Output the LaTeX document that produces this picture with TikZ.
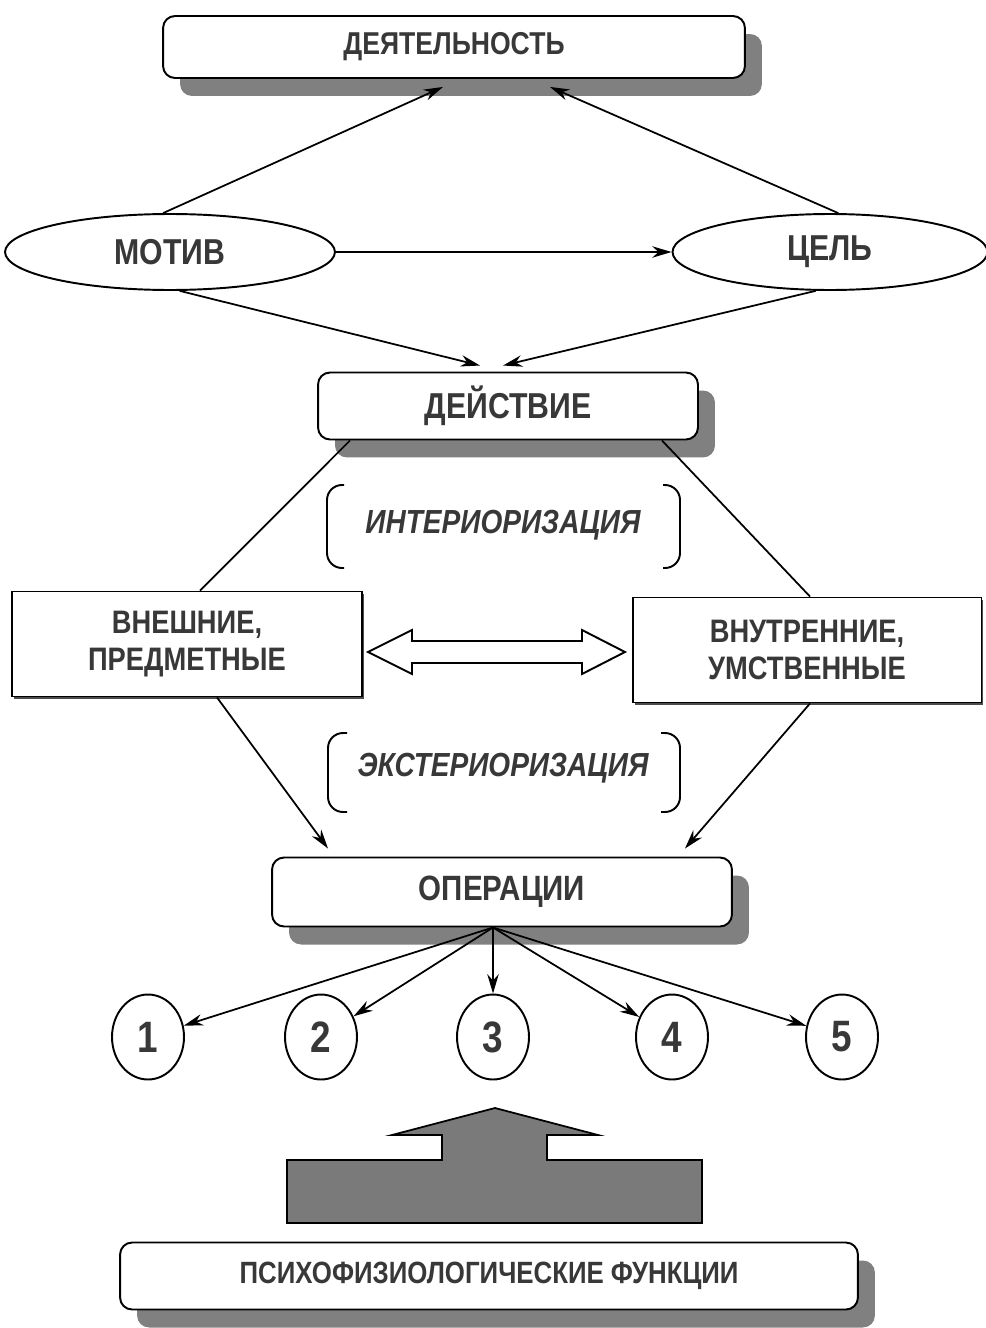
\documentclass[tikz,border=0pt]{standalone}
\usepackage{fontspec}
\setmainfont{Liberation Sans}[FakeStretch=0.84]
\usetikzlibrary{arrows.meta,shapes.geometric,shadows}

\begin{document}
\begin{tikzpicture}[x=0.02cm,y=-0.02cm,
  every node/.style={font=\fontsize{18}{21}\selectfont\bfseries,text=black!78},
  rbox/.style={draw,line width=1.1pt,fill=white,rounded corners=0.24cm,
    drop shadow={shadow xshift=0.34cm,shadow yshift=-0.36cm,fill=black!50,opacity=1}},
  sbox/.style={draw,line width=1.1pt,fill=white,align=center,
    font=\fontsize{18.5}{21}\selectfont\bfseries,
    drop shadow={shadow xshift=0.04cm,shadow yshift=-0.05cm,fill=black!70,opacity=1}},
  oval/.style={draw,ellipse,line width=1.1pt,fill=white,inner sep=0pt,
    font=\fontsize{20.5}{23}\selectfont\bfseries},
  num/.style={draw,ellipse,line width=1.1pt,fill=white,minimum width=1.44cm,
    minimum height=1.7cm,inner sep=0pt,font=\fontsize{25}{27}\selectfont\bfseries},
  arr/.style={line width=1pt,-{Stealth[length=11pt,width=6.5pt]}},
  ln/.style={line width=1pt},
  brk/.style={line width=1.1pt,rounded corners=0.3cm},
  it/.style={font=\fontsize{19}{21}\selectfont\bfseries\itshape}]
\useasboundingbox (0,0) rectangle (985,1328);

% top
\node[rbox,minimum width=11.64cm,minimum height=1.24cm] (akt) at (454,47) {ДЕЯТЕЛЬНОСТЬ};
\node[oval,minimum width=6.6cm,minimum height=1.52cm] (motiv) at (170,252) {МОТИВ};
\node[oval,minimum width=6.3cm,minimum height=1.52cm] (cel) at (830,252) {ЦЕЛЬ};
\node[rbox,minimum width=7.6cm,minimum height=1.34cm,font=\fontsize{20.5}{23}\selectfont\bfseries] (deystv) at (508,406) {ДЕЙСТВИЕ};

% middle
\node[it] (inter) at (503,525) {ИНТЕРИОРИЗАЦИЯ};
\node[sbox,minimum width=7cm,minimum height=2.1cm] (vnesh) at (187,644) {ВНЕШНИЕ,\\ПРЕДМЕТНЫЕ};
\node[sbox,minimum width=6.98cm,minimum height=2.1cm] (vnutr) at (807,650) {ВНУТРЕННИЕ,\\УМСТВЕННЫЕ};
\node[it] (exter) at (503,768) {ЭКСТЕРИОРИЗАЦИЯ};
\node[rbox,minimum width=9.2cm,minimum height=1.38cm,font=\fontsize{20}{23}\selectfont\bfseries] (oper) at (502,892) {ОПЕРАЦИИ};

% circles
\node[num] (c1) at (148,1037) {1};
\node[num] (c2) at (321,1037) {2};
\node[num] (c3) at (493,1037) {3};
\node[num] (c4) at (672,1037) {4};
\node[num] (c5) at (842,1037) {5};

% bottom
\filldraw[line width=1pt,fill=black!52] (495,1108) -- (598,1135) -- (547,1135) -- (547,1160)
  -- (702,1160) -- (702,1223) -- (287,1223) -- (287,1160) -- (442,1160) -- (442,1135)
  -- (392,1135) -- cycle;
\node[rbox,minimum width=14.76cm,minimum height=1.34cm,font=\fontsize{17.5}{20}\selectfont\bfseries] (psy) at (489,1276) {ПСИХОФИЗИОЛОГИЧЕСКИЕ ФУНКЦИИ};

% brackets
\draw[brk] (344,485) -- (327,485) -- (327,568) -- (344,568);
\draw[brk] (663,485) -- (680,485) -- (680,568) -- (663,568);
\draw[brk] (347,733) -- (328,733) -- (328,812) -- (347,812);
\draw[brk] (661,733) -- (680,733) -- (680,812) -- (661,812);

% double arrow
\draw[line width=1.1pt,fill=white] (368,652) -- (412,630) -- (412,641) -- (582,641) -- (582,630)
  -- (625,652) -- (582,674) -- (582,663) -- (412,663) -- (412,674) -- cycle;

% lines
\draw[arr] (motiv) -- (cel);
\draw[arr] (motiv.100) -- ([xshift=-0.22cm,yshift=-0.16cm]akt.south);
\draw[arr] (cel.78) -- ([xshift=1.92cm,yshift=-0.16cm]akt.south);
\draw[arr] (motiv.-76) -- ([xshift=-0.56cm,yshift=0.12cm]deystv.north);
\draw[arr] (cel.-110) -- ([xshift=-0.1cm,yshift=0.12cm]deystv.north);
\draw[ln] ([xshift=-3.16cm]deystv.south) -- ([xshift=0.26cm]vnesh.north);
\draw[ln] ([xshift=3.08cm]deystv.south) -- ([xshift=0.06cm]vnutr.north);
\draw[arr] ([xshift=0.6cm]vnesh.south) -- ([xshift=-3.48cm,yshift=0.16cm]oper.north);
\draw[arr] ([xshift=0.06cm]vnutr.south) -- ([xshift=3.66cm,yshift=0.16cm]oper.north);
\draw[arr] ([xshift=-0.18cm]oper.south) -- (c1);
\draw[arr] ([xshift=-0.18cm]oper.south) -- (c2);
\draw[arr] ([xshift=-0.18cm]oper.south) -- (c3);
\draw[arr] ([xshift=-0.18cm]oper.south) -- (c4);
\draw[arr] ([xshift=-0.18cm]oper.south) -- (c5);
\end{tikzpicture}
\end{document}
